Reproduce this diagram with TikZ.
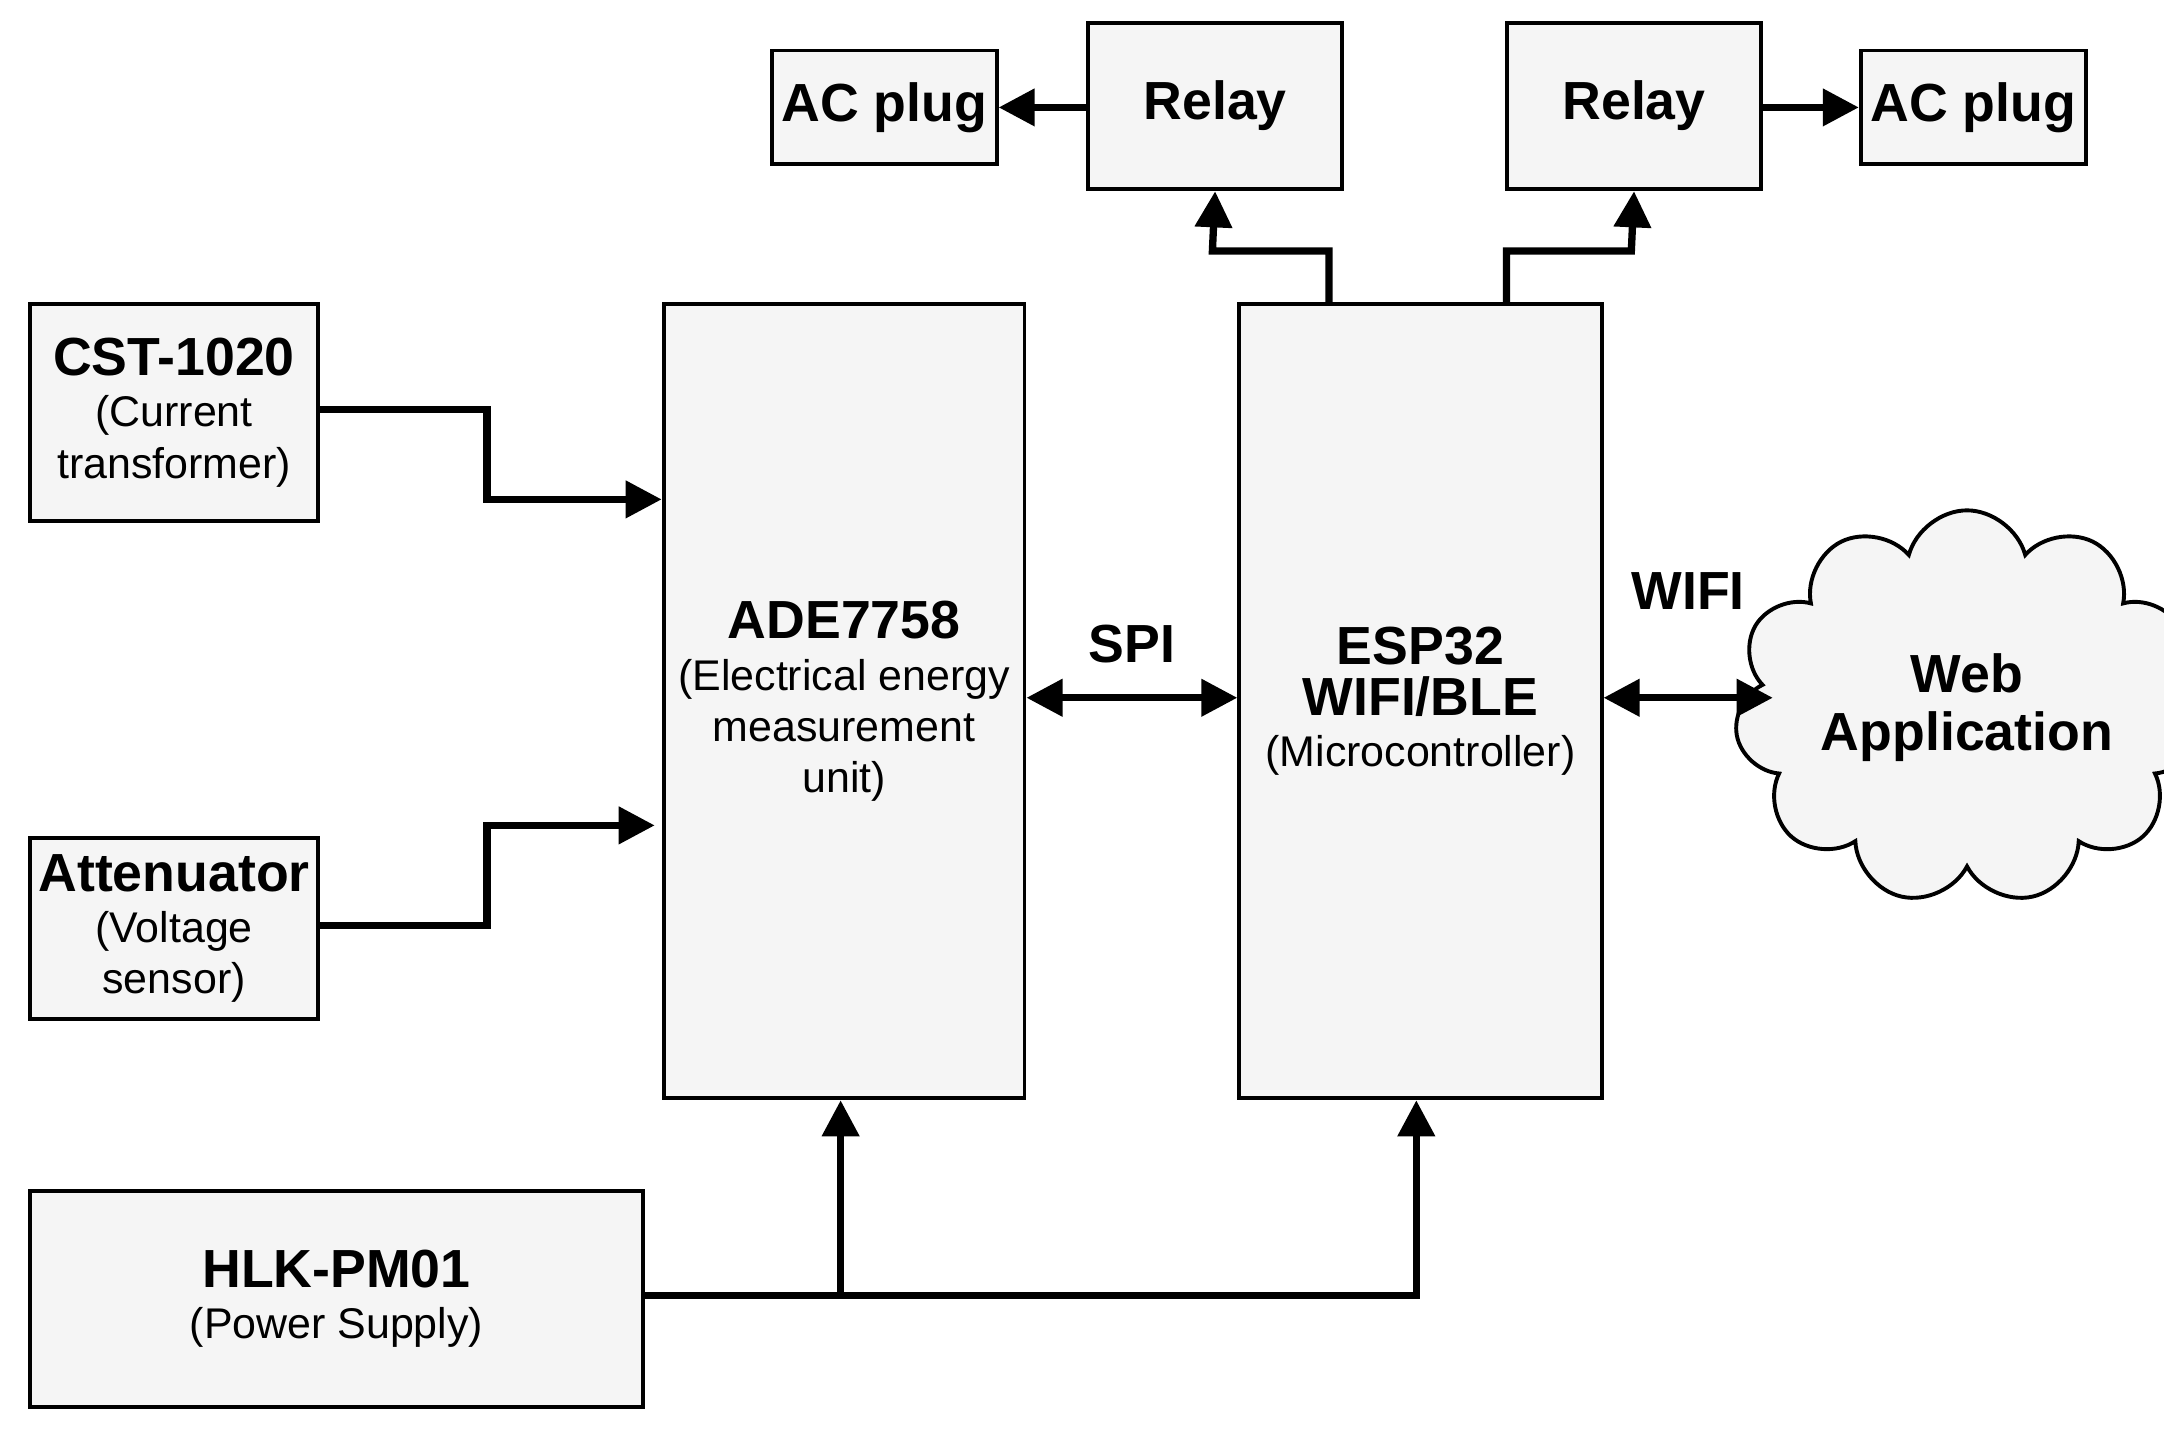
\documentclass[tikz,border=0pt]{standalone}
\usepackage{fontspec}
\setmainfont{Liberation Sans}
\usetikzlibrary{arrows.meta,shapes.symbols}

\tikzset{
	blk/.style={draw, line width=0.8pt, fill=gray!8, anchor=north west, align=center, inner sep=1pt,
		font=\fontsize{8.8}{10.5}\selectfont},
	wire/.style={line width=1.5pt, -{Triangle[length=2.6mm,width=2.6mm]}},
	lbl/.style={font=\fontsize{11}{13}\selectfont\bfseries}
}
\newcommand{\ttl}[1]{{\fontsize{11}{13}\selectfont\bfseries #1}}

\begin{document}
\begin{tikzpicture}[x=0.01cm,y=-0.01cm]
\useasboundingbox (0,0) rectangle (1560,1036);

% blocks
\node[blk, minimum width=1.62cm, minimum height=0.82cm] (acl) at (555,35) {\ttl{AC plug}};
\node[blk, minimum width=1.83cm, minimum height=1.2cm] (rl) at (783,15) {\ttl{Relay}};
\node[blk, minimum width=1.83cm, minimum height=1.2cm] (rr) at (1085,15) {\ttl{Relay}};
\node[blk, minimum width=1.62cm, minimum height=0.82cm] (acr) at (1340,35) {\ttl{AC plug}};
\node[blk, minimum width=2.08cm, minimum height=1.56cm] (cst) at (20,218) {\ttl{CST-1020}\\(Current\\transformer)};
\node[blk, minimum width=2.08cm, minimum height=1.3cm] (att) at (20,603) {\ttl{Attenuator}\\(Voltage\\sensor)};
\node[blk, minimum width=2.6cm, minimum height=5.72cm] (ade) at (477,218) {\ttl{ADE7758}\\(Electrical energy\\measurement\\unit)};
\node[blk, minimum width=2.61cm, minimum height=5.72cm] (esp) at (892,218) {\ttl{ESP32}\\\ttl{WIFI/BLE}\\(Microcontroller)};
\node[blk, minimum width=4.42cm, minimum height=1.56cm] (hlk) at (20,857) {\ttl{HLK-PM01}\\(Power Supply)};
\node[draw, line width=0.8pt, fill=gray!8, cloud, cloud puffs=11, aspect=1.3, minimum width=2.5cm, minimum height=2cm,
	align=center, inner sep=0pt] (web) at (1418,510) {\ttl{Web}\\\ttl{Application}};

% coordinates
\coordinate (hb) at (606,934);
\coordinate (el) at (958,218);
\coordinate (er) at (1086,218);

% connectors
\draw[wire] (cst.east |- 0,295) -- (351,295) -- (351,360) -- (ade.west |- 0,360);
\draw[wire] (att.east |- 0,667) -- (351,667) -- (351,595) -- (472,595);
\draw[wire, {Triangle[length=2.6mm,width=2.6mm]}-{Triangle[length=2.6mm,width=2.6mm]}] (ade.east |- 0,503) -- (esp.west |- 0,503)
	node[midway, above=3pt, lbl] {SPI};
\draw[wire, {Triangle[length=2.6mm,width=2.6mm]}-{Triangle[length=2.6mm,width=2.6mm]}] (esp.east |- 0,503) -- (1278,503)
	node[midway, above=14pt, lbl] {WIFI};
\draw[wire] (el) -- (958,181) -- (874,181) -- (rl.south);
\draw[wire] (er) -- (1086,181) -- (1176,181) -- (rr.south);
\draw[wire] (rl.west |- acl.east) -- (acl.east);
\draw[wire] (rr.east |- acr.west) -- (acr.west);
\draw[wire] (hlk.east |- hb) -- (1021,934) -- (esp.south -| 1021,0);
\draw[wire] (hb) -- (ade.south -| hb);
\end{tikzpicture}
\end{document}
